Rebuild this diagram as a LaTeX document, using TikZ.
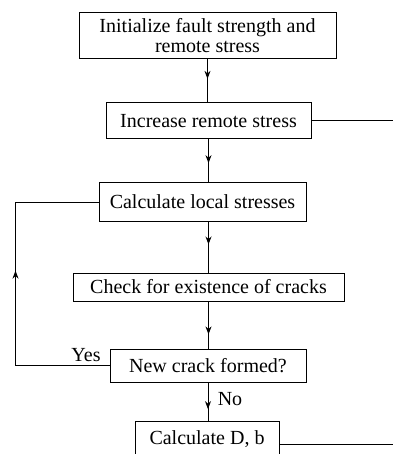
\documentclass[tikz,border=0pt]{standalone}
\usepackage{fontspec}
\setmainfont{Liberation Serif}
\usetikzlibrary{arrows.meta,decorations.markings,calc}
\begin{document}
\begin{tikzpicture}[x=1pt,y=-1pt,
  box/.style={draw,line width=1pt,inner sep=0pt,align=center,font=\fontsize{20}{20}\selectfont},
  lbl/.style={font=\fontsize{20}{20}\selectfont},
  conn/.style={line width=1pt},
  midarrow/.style={conn,postaction={decorate,decoration={markings,mark=at position #1 with {\arrow{Stealth[length=8pt,width=6pt]}}}}}
]
\useasboundingbox (0,0) rectangle (392,454);
\node[box,minimum width=257pt,minimum height=46pt] (b1) at (207.5,36) {Initialize fault strength and\\remote stress};
\node[box,minimum width=205pt,minimum height=36pt] (b2) at (208.5,121) {Increase remote stress};
\node[box,minimum width=207pt,minimum height=38pt] (b3) at (202.5,202) {Calculate local stresses};
\node[box,minimum width=271pt,minimum height=28pt] (b4) at (208.5,287) {Check for existence of cracks};
\node[box,minimum width=196pt,minimum height=33pt] (b5) at (208,365.5) {New crack formed?};
\node[box,minimum width=144pt,minimum height=36pt] (b6) at (207,439) {Calculate D, b};
\node[lbl] (yes) at (86,355) {Yes};
\node[lbl] (no) at (230,399) {No};
\draw[midarrow=0.45] (b1.south) -- (b1.south |- b2.north);
\draw[midarrow=0.55] (b2.south) -- (b2.south |- b3.north);
\draw[midarrow=0.45] (b2.south |- b3.south) -- (b2.south |- b4.north);
\draw[midarrow=0.7] (b4.south) -- (b4.south |- b5.north);
\draw[midarrow=0.7] (b5.south) -- (b5.south |- b6.north);
\path (b5.west) ++(-94,0) coordinate (c5);
\path (b3.west) ++(-83,0) coordinate (c3);
\draw[conn] (b5.west) -- (c5);
\draw[midarrow=0.58] (c5) -- (c3);
\draw[conn] (c3) -- (b3.west);
\path (b2.east) ++(81,0) coordinate (r2);
\draw[conn] (b2.east) -- (r2);
\path (b6.north east) ++(0,24) coordinate (e6);
\path (e6) ++(113,0) coordinate (r6);
\draw[conn] (e6) -- (r6);
\end{tikzpicture}
\end{document}
